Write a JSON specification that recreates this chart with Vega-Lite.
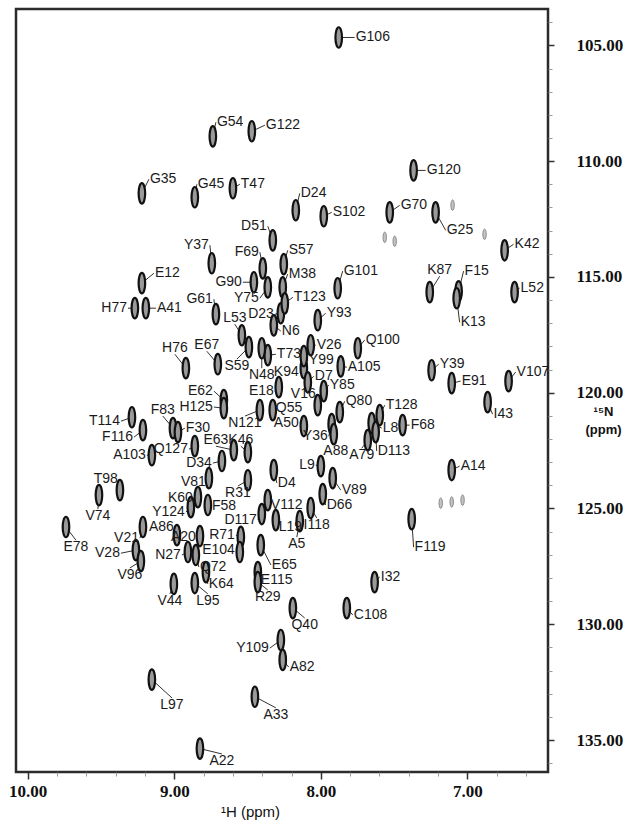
{
  "$schema": "https://vega.github.io/schema/vega-lite/v6.json",
  "autosize": {"type": "none"},
  "width": 532,
  "height": 763,
  "padding": {"left": 16, "top": 9, "right": 82, "bottom": 56},
  "background": "white",
  "config": {"view": {"stroke": "#2b2b2b", "strokeWidth": 2.5}},
  "datasets": {
    "pk": [
      {"r":"G106","h":7.878,"n":104.66,"lh":7.769,"ln":104.66,"a":"l"},
      {"r":"G54","h":8.737,"n":108.93,"lh":8.716,"ln":108.32,"a":"l"},
      {"r":"G122","h":8.471,"n":108.71,"lh":8.382,"ln":108.45,"a":"l"},
      {"r":"G35","h":9.221,"n":111.39,"lh":9.173,"ln":110.78,"a":"l"},
      {"r":"G45","h":8.860,"n":111.56,"lh":8.846,"ln":111.00,"a":"l"},
      {"r":"T47","h":8.600,"n":111.17,"lh":8.553,"ln":111.00,"a":"l"},
      {"r":"D24","h":8.171,"n":112.12,"lh":8.144,"ln":111.39,"a":"l"},
      {"r":"G120","h":7.367,"n":110.40,"lh":7.285,"ln":110.40,"a":"l"},
      {"r":"G70","h":7.530,"n":112.21,"lh":7.462,"ln":111.91,"a":"l"},
      {"r":"S102","h":7.980,"n":112.38,"lh":7.926,"ln":112.21,"a":"l"},
      {"r":"G25","h":7.217,"n":112.21,"lh":7.148,"ln":112.99,"a":"l"},
      {"r":"K42","h":6.746,"n":113.85,"lh":6.685,"ln":113.59,"a":"l"},
      {"r":"D51","h":8.328,"n":113.42,"lh":8.362,"ln":112.81,"a":"r"},
      {"r":"Y37","h":8.744,"n":114.41,"lh":8.757,"ln":113.63,"a":"r"},
      {"r":"S57","h":8.253,"n":114.45,"lh":8.226,"ln":113.85,"a":"l"},
      {"r":"F69","h":8.396,"n":114.63,"lh":8.416,"ln":113.93,"a":"r"},
      {"r":"M38","h":8.260,"n":115.45,"lh":8.226,"ln":114.88,"a":"l"},
      {"r":"E12","h":9.221,"n":115.27,"lh":9.139,"ln":114.84,"a":"l"},
      {"r":"G90","h":8.457,"n":115.23,"lh":8.532,"ln":115.23,"a":"r"},
      {"r":"Y75","h":8.362,"n":115.45,"lh":8.416,"ln":115.92,"a":"r"},
      {"r":"G101","h":7.885,"n":115.49,"lh":7.851,"ln":114.75,"a":"l"},
      {"r":"K87","h":7.257,"n":115.66,"lh":7.189,"ln":114.97,"a":"b"},
      {"r":"F15","h":7.060,"n":115.62,"lh":7.026,"ln":114.75,"a":"l"},
      {"r":"L52","h":6.678,"n":115.66,"lh":6.644,"ln":115.49,"a":"l"},
      {"r":"H77","h":9.269,"n":116.35,"lh":9.316,"ln":116.35,"a":"r"},
      {"r":"A41","h":9.194,"n":116.35,"lh":9.125,"ln":116.35,"a":"l"},
      {"r":"G61","h":8.716,"n":116.61,"lh":8.730,"ln":115.96,"a":"r"},
      {"r":"D23","h":8.273,"n":116.57,"lh":8.314,"ln":116.61,"a":"r"},
      {"r":"T123","h":8.246,"n":116.14,"lh":8.191,"ln":115.88,"a":"l"},
      {"r":"Y93","h":8.021,"n":116.87,"lh":7.967,"ln":116.57,"a":"l"},
      {"r":"K13","h":7.073,"n":115.92,"lh":7.053,"ln":116.96,"a":"l"},
      {"r":"L53","h":8.539,"n":117.52,"lh":8.587,"ln":117.04,"a":"b"},
      {"r":"N6","h":8.321,"n":117.09,"lh":8.273,"ln":117.34,"a":"l"},
      {"r":"S59","h":8.491,"n":118.03,"lh":8.573,"ln":118.55,"a":"t"},
      {"r":"E67","h":8.703,"n":118.77,"lh":8.778,"ln":118.21,"a":"b"},
      {"r":"H76","h":8.921,"n":118.94,"lh":8.996,"ln":118.34,"a":"b"},
      {"r":"V26","h":8.069,"n":117.95,"lh":8.035,"ln":117.95,"a":"l"},
      {"r":"T73","h":8.362,"n":118.38,"lh":8.307,"ln":118.34,"a":"l"},
      {"r":"N48","h":8.403,"n":118.08,"lh":8.403,"ln":118.94,"a":"t"},
      {"r":"K94","h":8.116,"n":118.94,"lh":8.144,"ln":119.11,"a":"r"},
      {"r":"Y99","h":8.116,"n":118.42,"lh":8.089,"ln":118.60,"a":"l"},
      {"r":"Q100","h":7.748,"n":118.08,"lh":7.701,"ln":117.73,"a":"l"},
      {"r":"A105","h":7.864,"n":118.86,"lh":7.823,"ln":118.90,"a":"l"},
      {"r":"Y39","h":7.244,"n":119.03,"lh":7.196,"ln":118.77,"a":"l"},
      {"r":"E91","h":7.107,"n":119.59,"lh":7.046,"ln":119.50,"a":"l"},
      {"r":"V107","h":6.719,"n":119.50,"lh":6.671,"ln":119.11,"a":"l"},
      {"r":"E18","h":8.287,"n":119.76,"lh":8.314,"ln":119.93,"a":"r"},
      {"r":"D7","h":8.089,"n":119.55,"lh":8.048,"ln":119.29,"a":"l"},
      {"r":"Y85","h":7.980,"n":119.93,"lh":7.946,"ln":119.67,"a":"l"},
      {"r":"V16","h":8.021,"n":120.54,"lh":8.028,"ln":120.06,"a":"r"},
      {"r":"E62","h":8.662,"n":120.32,"lh":8.730,"ln":119.93,"a":"r"},
      {"r":"H125","h":8.662,"n":120.67,"lh":8.730,"ln":120.62,"a":"r"},
      {"r":"I43","h":6.862,"n":120.41,"lh":6.828,"ln":120.93,"a":"l"},
      {"r":"N121","h":8.416,"n":120.75,"lh":8.518,"ln":121.01,"a":"t"},
      {"r":"Q55","h":8.328,"n":120.75,"lh":8.314,"ln":120.67,"a":"l"},
      {"r":"Q80","h":7.871,"n":120.84,"lh":7.837,"ln":120.37,"a":"l"},
      {"r":"T128","h":7.598,"n":120.97,"lh":7.564,"ln":120.54,"a":"l"},
      {"r":"T114","h":9.289,"n":121.06,"lh":9.364,"ln":121.23,"a":"r"},
      {"r":"F83","h":9.009,"n":121.53,"lh":9.078,"ln":121.01,"a":"b"},
      {"r":"F116","h":9.214,"n":121.62,"lh":9.275,"ln":121.92,"a":"r"},
      {"r":"F30","h":8.975,"n":121.70,"lh":8.928,"ln":121.53,"a":"l"},
      {"r":"F68","h":7.442,"n":121.40,"lh":7.394,"ln":121.40,"a":"l"},
      {"r":"L8","h":7.653,"n":121.31,"lh":7.585,"ln":121.53,"a":"l"},
      {"r":"Y36","h":7.926,"n":121.36,"lh":7.946,"ln":121.88,"a":"r"},
      {"r":"A50","h":8.116,"n":121.44,"lh":8.144,"ln":121.31,"a":"r"},
      {"r":"E63","h":8.594,"n":122.48,"lh":8.716,"ln":122.31,"a":"b"},
      {"r":"K46","h":8.498,"n":122.57,"lh":8.546,"ln":122.31,"a":"b"},
      {"r":"Q127","h":8.860,"n":122.31,"lh":8.900,"ln":122.44,"a":"r"},
      {"r":"A103","h":9.153,"n":122.70,"lh":9.187,"ln":122.70,"a":"r"},
      {"r":"A88","h":7.912,"n":121.79,"lh":7.898,"ln":122.22,"a":"t"},
      {"r":"A79","h":7.680,"n":122.05,"lh":7.721,"ln":122.40,"a":"t"},
      {"r":"D113","h":7.626,"n":121.70,"lh":7.619,"ln":122.52,"a":"l"},
      {"r":"D34","h":8.675,"n":122.95,"lh":8.737,"ln":123.04,"a":"r"},
      {"r":"D4","h":8.321,"n":123.34,"lh":8.300,"ln":123.90,"a":"l"},
      {"r":"L9","h":8.000,"n":123.17,"lh":8.035,"ln":123.13,"a":"r"},
      {"r":"V81","h":8.764,"n":123.69,"lh":8.778,"ln":123.86,"a":"r"},
      {"r":"V89","h":7.919,"n":123.69,"lh":7.864,"ln":124.21,"a":"l"},
      {"r":"T98","h":9.371,"n":124.21,"lh":9.378,"ln":123.73,"a":"r"},
      {"r":"R31","h":8.498,"n":123.78,"lh":8.566,"ln":124.03,"a":"t"},
      {"r":"K60","h":8.839,"n":124.51,"lh":8.866,"ln":124.55,"a":"r"},
      {"r":"V74","h":9.514,"n":124.42,"lh":9.521,"ln":125.03,"a":"t"},
      {"r":"D66","h":7.987,"n":124.38,"lh":7.967,"ln":124.85,"a":"l"},
      {"r":"V112","h":8.362,"n":124.64,"lh":8.348,"ln":124.85,"a":"l"},
      {"r":"F58","h":8.771,"n":124.85,"lh":8.750,"ln":124.89,"a":"l"},
      {"r":"Y124","h":8.887,"n":124.94,"lh":8.921,"ln":125.16,"a":"r"},
      {"r":"I118","h":8.069,"n":124.98,"lh":8.028,"ln":125.41,"a":"t"},
      {"r":"D117","h":8.403,"n":125.24,"lh":8.430,"ln":125.50,"a":"r"},
      {"r":"L19","h":8.307,"n":125.50,"lh":8.294,"ln":125.80,"a":"l"},
      {"r":"F119","h":7.380,"n":125.46,"lh":7.367,"ln":126.67,"a":"l"},
      {"r":"E78","h":9.739,"n":125.80,"lh":9.671,"ln":126.37,"a":"t"},
      {"r":"R71","h":8.546,"n":126.23,"lh":8.580,"ln":126.15,"a":"r"},
      {"r":"A5","h":8.144,"n":125.55,"lh":8.164,"ln":126.24,"a":"t"},
      {"r":"V21","h":9.214,"n":125.80,"lh":9.234,"ln":126.28,"a":"r"},
      {"r":"A86","h":8.982,"n":126.15,"lh":8.996,"ln":125.80,"a":"r"},
      {"r":"A20","h":8.825,"n":126.19,"lh":8.846,"ln":126.23,"a":"r"},
      {"r":"E104","h":8.553,"n":126.88,"lh":8.580,"ln":126.80,"a":"r"},
      {"r":"V28","h":9.262,"n":126.80,"lh":9.364,"ln":126.93,"a":"r"},
      {"r":"N27","h":8.907,"n":126.88,"lh":8.948,"ln":127.01,"a":"r"},
      {"r":"Q72","h":8.853,"n":127.01,"lh":8.832,"ln":127.53,"a":"l"},
      {"r":"E65","h":8.410,"n":126.58,"lh":8.341,"ln":127.44,"a":"l"},
      {"r":"V96","h":9.228,"n":127.27,"lh":9.303,"ln":127.57,"a":"t"},
      {"r":"K64","h":8.784,"n":127.75,"lh":8.771,"ln":128.26,"a":"l"},
      {"r":"E115","h":8.430,"n":127.75,"lh":8.416,"ln":128.09,"a":"l"},
      {"r":"V44","h":9.003,"n":128.26,"lh":9.030,"ln":128.69,"a":"t"},
      {"r":"L95","h":8.860,"n":128.22,"lh":8.771,"ln":128.69,"a":"t"},
      {"r":"I32","h":7.633,"n":128.18,"lh":7.598,"ln":127.96,"a":"l"},
      {"r":"R29","h":8.430,"n":128.18,"lh":8.362,"ln":128.52,"a":"t"},
      {"r":"Q40","h":8.191,"n":129.30,"lh":8.110,"ln":129.73,"a":"t"},
      {"r":"C108","h":7.823,"n":129.30,"lh":7.782,"ln":129.60,"a":"l"},
      {"r":"Y109","h":8.273,"n":130.68,"lh":8.348,"ln":131.03,"a":"r"},
      {"r":"A82","h":8.260,"n":131.54,"lh":8.219,"ln":131.85,"a":"l"},
      {"r":"L97","h":9.153,"n":132.39,"lh":9.016,"ln":133.18,"a":"t"},
      {"r":"A33","h":8.450,"n":133.13,"lh":8.307,"ln":133.61,"a":"t"},
      {"r":"A22","h":8.825,"n":135.37,"lh":8.675,"ln":135.60,"a":"t"},
      {"r":"A14","h":7.107,"n":123.34,"lh":7.053,"ln":123.17,"a":"l"}
    ],
    "wk": [
      {"h":7.564,"n":113.29},
      {"h":7.496,"n":113.46},
      {"h":7.101,"n":111.90},
      {"h":6.883,"n":113.16},
      {"h":7.182,"n":124.77},
      {"h":7.107,"n":124.72},
      {"h":7.033,"n":124.64}
    ]
  },
  "resolve": {"scale": {"x": "shared", "y": "shared"}, "axis": {"x": "independent", "y": "independent"}},
  "layer": [
    {
      "data": {"name": "wk"},
      "mark": {"type": "point", "shape": "M0,-1C0.177,-1,0.32,-0.552,0.32,0C0.32,0.552,0.177,1,0,1C-0.177,1,-0.32,0.552,-0.32,0C-0.32,-0.552,-0.177,-1,0,-1Z", "size": 110, "filled": true, "fill": "#c4c4c4", "stroke": "#8a8a8a", "strokeWidth": 1, "opacity": 1},
      "encoding": {
        "x": {"field": "h", "type": "quantitative", "scale": {"domain": [6.45, 10.08], "reverse": true, "nice": false, "zero": false},
          "axis": {"orient": "bottom", "values": [6.6,6.8,7.2,7.4,7.6,7.8,8.2,8.4,8.6,8.8,9.2,9.4,9.6,9.8], "labels": false, "title": null, "tickSize": 4, "tickColor": "#999", "tickWidth": 1, "domain": false, "grid": false}},
        "y": {"field": "n", "type": "quantitative", "scale": {"domain": [103.43, 136.38], "reverse": true, "nice": false, "zero": false},
          "axis": {"orient": "right", "values": [104,106,107,108,109,111,112,113,114,116,117,118,119,121,122,123,124,126,127,128,129,131,132,133,134,136], "labels": false, "title": null, "tickSize": 4, "tickColor": "#999", "tickWidth": 1, "domain": false, "grid": false}}
      }
    },
    {
      "data": {"name": "pk"},
      "mark": {"type": "rule", "color": "#333", "strokeWidth": 1},
      "encoding": {
        "x": {"field": "h", "type": "quantitative", "axis": null},
        "y": {"field": "n", "type": "quantitative", "axis": null},
        "x2": {"field": "lh"},
        "y2": {"field": "ln"}
      }
    },
    {
      "data": {"name": "pk"},
      "mark": {"type": "point", "shape": "M0,-1C0.177,-1,0.32,-0.552,0.32,0C0.32,0.552,0.177,1,0,1C-0.177,1,-0.32,0.552,-0.32,0C-0.32,-0.552,-0.177,-1,0,-1Z", "size": 420, "filled": true, "fill": "#9a9a9a", "stroke": "#111111", "strokeWidth": 2.2, "opacity": 1},
      "encoding": {
        "x": {"field": "h", "type": "quantitative",
          "axis": {"orient": "bottom", "values": [10, 9, 8, 7], "format": ".2f", "title": "¹H (ppm)", "tickSize": 7, "tickColor": "#333", "tickWidth": 1.5, "domain": false, "grid": false, "labelFont": "Liberation Serif", "labelFontWeight": "bold", "labelFontSize": 17, "labelPadding": 4, "labelColor": "#111", "labelFlush": false, "titleFont": "Liberation Sans", "titleFontSize": 15, "titleFontWeight": "normal", "titleColor": "#111", "titleX": 234, "titleY": 39, "titleAlign": "center", "titleBaseline": "middle"}},
        "y": {"field": "n", "type": "quantitative",
          "axis": {"orient": "right", "values": [105, 110, 115, 120, 125, 130, 135], "format": ".2f", "title": ["¹⁵N", "(ppm)"], "tickSize": 6, "tickColor": "#333", "tickWidth": 1.5, "domain": false, "grid": false, "labelFont": "Liberation Serif", "labelFontWeight": "bold", "labelFontSize": 17, "labelPadding": 22, "labelColor": "#111", "labelFlush": false, "titleFont": "Liberation Sans", "titleFontSize": 13, "titleFontWeight": "bold", "titleColor": "#111", "titleAngle": 0, "titleX": 55, "titleY": 396, "titleAlign": "center", "titleBaseline": "top", "titleLineHeight": 18}}
      }
    },
    {
      "data": {"name": "pk"},
      "transform": [{"filter": "datum.a === 'l'"}],
      "mark": {"type": "text", "align": "left", "baseline": "middle", "dx": 1, "font": "Liberation Sans", "fontSize": 14, "color": "#1a1a1a"},
      "encoding": {
        "x": {"field": "lh", "type": "quantitative", "axis": null},
        "y": {"field": "ln", "type": "quantitative", "axis": null},
        "text": {"field": "r"}
      }
    },
    {
      "data": {"name": "pk"},
      "transform": [{"filter": "datum.a === 'r'"}],
      "mark": {"type": "text", "align": "right", "baseline": "middle", "dx": -1, "font": "Liberation Sans", "fontSize": 14, "color": "#1a1a1a"},
      "encoding": {
        "x": {"field": "lh", "type": "quantitative", "axis": null},
        "y": {"field": "ln", "type": "quantitative", "axis": null},
        "text": {"field": "r"}
      }
    },
    {
      "data": {"name": "pk"},
      "transform": [{"filter": "datum.a === 'b'"}],
      "mark": {"type": "text", "align": "center", "baseline": "bottom", "dy": 1, "font": "Liberation Sans", "fontSize": 14, "color": "#1a1a1a"},
      "encoding": {
        "x": {"field": "lh", "type": "quantitative", "axis": null},
        "y": {"field": "ln", "type": "quantitative", "axis": null},
        "text": {"field": "r"}
      }
    },
    {
      "data": {"name": "pk"},
      "transform": [{"filter": "datum.a === 't'"}],
      "mark": {"type": "text", "align": "center", "baseline": "top", "dy": 0, "font": "Liberation Sans", "fontSize": 14, "color": "#1a1a1a"},
      "encoding": {
        "x": {"field": "lh", "type": "quantitative", "axis": null},
        "y": {"field": "ln", "type": "quantitative", "axis": null},
        "text": {"field": "r"}
      }
    }
  ]
}
